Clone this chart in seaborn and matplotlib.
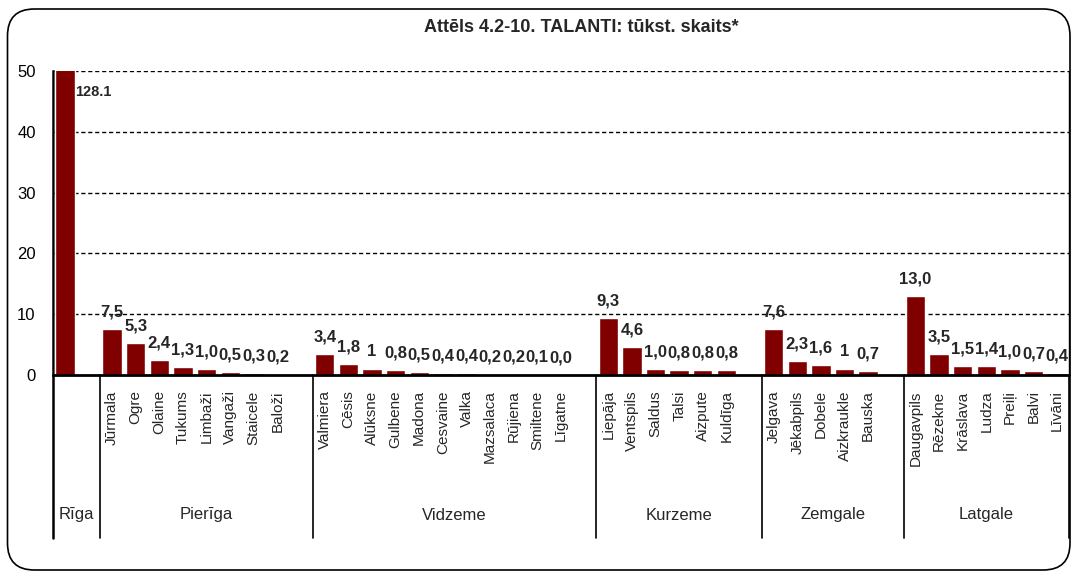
import numpy as np
import pandas as pd
import matplotlib
matplotlib.use("Agg")
import matplotlib.pyplot as plt
import seaborn as sns
from matplotlib.patches import FancyBboxPatch

# ---------------- data ----------------
title = "Attēls 4.2-10. TALANTI: tūkst. skaits*"
regions = ["Rīga", "Pierīga", "Vidzeme", "Kurzeme", "Zemgale", "Latgale"]

riga_cities = ["Rīga"]
riga_values = [128.1]
riga_labels = ["128.1"]

pieriga_cities = ["Jūrmala", "Ogre", "Olaine", "Tukums", "Limbaži", "Vangaži", "Staicele", "Baloži"]
pieriga_values = [7.5, 5.3, 2.4, 1.3, 1.0, 0.5, 0.3, 0.2]
pieriga_labels = ["7,5", "5,3", "2,4", "1,3", "1,0", "0,5", "0,3", "0,2"]

vidzeme_cities = ["Valmiera", "Cēsis", "Alūksne", "Gulbene", "Madona", "Cesvaine", "Valka",
                  "Mazsalaca", "Rūjiena", "Smiltene", "Līgatne"]
vidzeme_values = [3.4, 1.8, 1.0, 0.8, 0.5, 0.4, 0.4, 0.2, 0.2, 0.1, 0.0]
vidzeme_labels = ["3,4", "1,8", "1", "0,8", "0,5", "0,4", "0,4", "0,2", "0,2", "0,1", "0,0"]

kurzeme_cities = ["Liepāja", "Ventspils", "Saldus", "Talsi", "Aizpute", "Kuldīga"]
kurzeme_values = [9.3, 4.6, 1.0, 0.8, 0.8, 0.8]
kurzeme_labels = ["9,3", "4,6", "1,0", "0,8", "0,8", "0,8"]

zemgale_cities = ["Jelgava", "Jēkabpils", "Dobele", "Aizkraukle", "Bauska"]
zemgale_values = [7.6, 2.3, 1.6, 1.0, 0.7]
zemgale_labels = ["7,6", "2,3", "1,6", "1", "0,7"]

latgale_cities = ["Daugavpils", "Rēzekne", "Krāslava", "Ludza", "Preiļi", "Balvi", "Līvāni"]
latgale_values = [13.0, 3.5, 1.5, 1.4, 1.0, 0.7, 0.4]
latgale_labels = ["13,0", "3,5", "1,5", "1,4", "1,0", "0,7", "0,4"]

yticks = [0, 10, 20, 30, 40, 50]

# ---------------- build table (one blank slot after each group but the last) -------------
groups = [
    (riga_cities, riga_values, riga_labels),
    (pieriga_cities, pieriga_values, pieriga_labels),
    (vidzeme_cities, vidzeme_values, vidzeme_labels),
    (kurzeme_cities, kurzeme_values, kurzeme_labels),
    (zemgale_cities, zemgale_values, zemgale_labels),
    (latgale_cities, latgale_values, latgale_labels),
]
rows = []
bounds = []
pos = 0
for gi, (cities, vals, labs) in enumerate(groups):
    start = pos
    for c, v, l in zip(cities, vals, labs):
        rows.append(dict(key=f"{gi}_{c}", city=c, region=regions[gi], value=v, label=l))
        pos += 1
    if gi < len(groups) - 1:
        rows.append(dict(key=f"gap{gi}", city="", region=regions[gi], value=np.nan, label=""))
        pos += 1
    bounds.append((start, pos))
df = pd.DataFrame(rows)
n = len(df)

# ---------------- figure ----------------
sns.set_style("white")
FONT = ["Liberation Sans Narrow", "Liberation Sans", "DejaVu Sans"]
plt.rcParams["font.family"] = FONT

W, H = 1072, 573
fig = plt.figure(figsize=(W / 100, H / 100), dpi=100)
ax_l, ax_r, ax_t, ax_b = 53, 1069, 71, 375
ax = fig.add_axes([ax_l / W, 1 - ax_b / H, (ax_r - ax_l) / W, (ax_b - ax_t) / H])

sns.barplot(data=df, x="key", y="value", order=list(df["key"]), color="#800000",
            saturation=1, width=0.82, ax=ax, zorder=3)

ymax = 50
ax.set_xlim(-0.5, n - 0.5)
ax.set_ylim(0, ymax)
ax.set_xlabel("")
ax.set_ylabel("")

# grid
for yv in yticks[1:]:
    ax.axhline(yv, color="black", lw=1.0, ls=(0, (3, 2)), zorder=1)
ax.axhline(0, color="black", lw=2.0, zorder=4, clip_on=False)

for s in ["top", "bottom"]:
    ax.spines[s].set_visible(False)
ax.spines["left"].set_color("black")
ax.spines["left"].set_linewidth(1.8)
ax.spines["right"].set_color("black")
ax.spines["right"].set_linewidth(1.0)

ax.set_yticks(yticks)
ax.set_yticklabels([str(t) for t in yticks])
ax.tick_params(axis="y", length=4.5, width=1, color="black", pad=8, labelsize=12, labelcolor="black")

# city tick labels
ax.set_xticks(range(n))
ax.set_xticklabels(["" if (c == r) else c for c, r in zip(df["city"], df["region"])],
                   rotation=90, fontsize=11, va="top", ha="center")
ax.tick_params(axis="x", length=0, pad=11)

# value labels
for i, (v, lab) in enumerate(zip(df["value"], df["label"])):
    if not lab:
        continue
    if v > ymax:
        ax.text(i + 0.45, ymax - 3.4, lab, ha="left", va="center", fontsize=10.5,
                fontweight="bold", zorder=5)
    else:
        ax.annotate(lab, (i, v), xytext=(0, 9), textcoords="offset points",
                    ha="center", va="baseline", fontsize=12, fontweight="bold", zorder=5)

# group separators and region labels (below axis)
trans = ax.get_xaxis_transform()
sep_bottom = -(538 - ax_b) / (ax_b - ax_t)
lab_y = -(515 - ax_b) / (ax_b - ax_t)
edges = [-0.5] + [b[1] - 0.5 for b in bounds]
for x in edges:
    ax.plot([x, x], [0, sep_bottom], transform=trans, color="black",
            lw=1.8 if x == -0.5 else 1.2, clip_on=False, zorder=4)
for (s, e), r in zip(bounds, regions):
    ax.text((s + e - 1) / 2, lab_y, r, transform=trans, ha="center", va="center", fontsize=12)

# title
fig.text(581 / W, 1 - 28 / H, title, ha="center", va="center", fontsize=13, fontweight="bold")

# rounded chart border
border = FancyBboxPatch((7.5 / W, 3 / H), (1070 - 7.5) / W, (564 - 3) / H,
                        boxstyle="round,pad=0,rounding_size=0.025",
                        transform=fig.transFigure, fill=False, ec="black", lw=1.2,
                        mutation_aspect=W / H, zorder=10)
fig.patches.append(border)

fig.savefig("out.png", dpi=100)
